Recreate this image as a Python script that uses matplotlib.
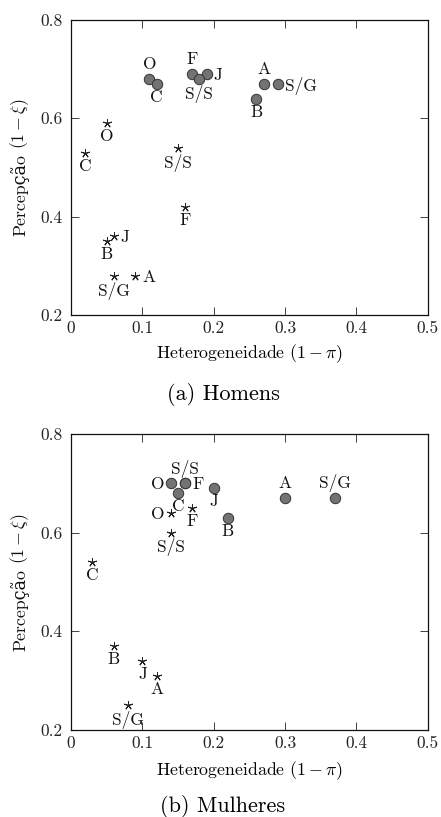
import matplotlib
matplotlib.use("Agg")
import matplotlib.pyplot as plt

plt.rcParams['font.family'] = ['cmr10', 'DejaVu Serif']
plt.rcParams['mathtext.fontset'] = 'cm'
plt.rcParams['axes.formatter.use_mathtext'] = True

# ---------------- data ----------------
x_ticks = [0, 0.1, 0.2, 0.3, 0.4, 0.5]
x_tick_labels = ['0', '0.1', '0.2', '0.3', '0.4', '0.5']
y_ticks = [0.2, 0.4, 0.6, 0.8]
y_tick_labels = ['0.2', '0.4', '0.6', '0.8']

# (a) Homens
men_circle_labels = ['O', 'C', 'F', 'J', 'S/S', 'A', 'S/G', 'B']
men_circle_x = [0.11, 0.12, 0.17, 0.19, 0.18, 0.27, 0.29, 0.26]
men_circle_y = [0.68, 0.67, 0.69, 0.69, 0.68, 0.67, 0.67, 0.64]
men_circle_pos = ['above', 'below', 'above', 'right', 'below', 'above', 'right', 'below']

men_star_labels = ['O', 'C', 'S/S', 'F', 'J', 'B', 'S/G', 'A']
men_star_x = [0.05, 0.02, 0.15, 0.16, 0.06, 0.05, 0.06, 0.09]
men_star_y = [0.59, 0.53, 0.54, 0.42, 0.36, 0.35, 0.28, 0.28]
men_star_pos = ['below', 'below', 'below', 'below', 'right', 'below', 'below', 'right']

# (b) Mulheres
women_circle_labels = ['O', 'S/S', 'F', 'C', 'J', 'A', 'S/G', 'B']
women_circle_x = [0.14, 0.16, 0.16, 0.15, 0.20, 0.30, 0.37, 0.22]
women_circle_y = [0.70, 0.70, 0.70, 0.68, 0.69, 0.67, 0.67, 0.63]
women_circle_pos = ['left', 'above', 'right', 'below', 'below', 'above', 'above', 'below']

women_star_labels = ['O', 'F', 'S/S', 'C', 'B', 'J', 'A', 'S/G']
women_star_x = [0.14, 0.17, 0.14, 0.03, 0.06, 0.10, 0.12, 0.08]
women_star_y = [0.64, 0.65, 0.60, 0.54, 0.37, 0.34, 0.31, 0.25]
women_star_pos = ['left', 'below', 'below', 'below', 'below', 'below', 'below', 'below']

x_title = r'Heterogeneidade $(1-\pi)$'
y_title_text = 'Percepção'
y_title_math = r'$(1-\xi)$'
captions = ['(a) Homens', '(b) Mulheres']

# ---------------- drawing ----------------
W, H = 441, 817
fig = plt.figure(figsize=(W / 100, H / 100), dpi=100)

LABEL_SIZE = 12.8
TICK_SIZE = 12.5
PT_SIZE = 12.5
CAP_SIZE = 16

offsets = {
    'above': dict(xytext=(0, 7.0), ha='center', va='baseline'),
    'below': dict(xytext=(0, -4.2), ha='center', va='top'),
    'right': dict(xytext=(5.0, 0), ha='left', va='center_baseline'),
    'left': dict(xytext=(-4.5, 0), ha='right', va='center_baseline'),
}


def draw_panel(ax, cx, cy, clab, cpos, sx, sy, slab, spos):
    ax.plot(sx, sy, linestyle='none', marker=(5, 2, 0), markersize=6.5,
            markeredgewidth=0.7, color='#222222', zorder=3)
    ax.plot(cx, cy, linestyle='none', marker='o', markersize=7.5,
            markerfacecolor='#737373', markeredgecolor='#333333',
            markeredgewidth=0.7, zorder=4)
    for x, y, t, p in list(zip(cx, cy, clab, cpos)) + list(zip(sx, sy, slab, spos)):
        o = offsets[p]
        ax.annotate(t, (x, y), xytext=o['xytext'], textcoords='offset points',
                    ha=o['ha'], va=o['va'], fontsize=PT_SIZE, color='#111111',
                    zorder=5)
    ax.set_xlim(0, 0.5)
    ax.set_ylim(0.2, 0.8)
    ax.set_xticks(x_ticks)
    ax.set_xticklabels(x_tick_labels)
    ax.set_yticks(y_ticks)
    ax.set_yticklabels(y_tick_labels)
    ax.tick_params(direction='in', length=5.5, width=0.6, top=True, right=True,
                   labelsize=TICK_SIZE, colors='#222222', pad=4)
    ax.tick_params(axis='y', pad=6)
    for s in ax.spines.values():
        s.set_linewidth(0.9)
        s.set_color('#111111')
    ax.set_xlabel(x_title, fontsize=LABEL_SIZE)
    ax.xaxis.label.set_va('center')


ax_left = 71 / W
ax_w = (427.7 - 71) / W
ax1 = fig.add_axes([ax_left, 1 - 315 / H, ax_w, (315 - 20) / H])
ax2 = fig.add_axes([ax_left, 1 - 730 / H, ax_w, (730 - 434) / H])

draw_panel(ax1, men_circle_x, men_circle_y, men_circle_labels, men_circle_pos,
           men_star_x, men_star_y, men_star_labels, men_star_pos)
draw_panel(ax2, women_circle_x, women_circle_y, women_circle_labels, women_circle_pos,
           women_star_x, women_star_y, women_star_labels, women_star_pos)

ax1.xaxis.set_label_coords(0.5, (315 - 354) / 295)
ax2.xaxis.set_label_coords(0.5, (730 - 771) / 296)

fig.text(223 / W, 1 - 394 / H, captions[0], ha='center', va='center', fontsize=CAP_SIZE)
fig.text(223 / W, 1 - 807 / H, captions[1], ha='center', va='center', fontsize=CAP_SIZE)

# rotated y label made of a plain-text part and a math part
fig.canvas.draw()
renderer = fig.canvas.get_renderer()
for top_px, bot_px in [(20, 315), (434, 730)]:
    cx = 20 / W
    t1 = fig.text(cx, 0, y_title_text, rotation=90, ha='center', va='bottom',
                  fontsize=LABEL_SIZE, color='#111111')
    t2 = fig.text(cx, 0, y_title_math, rotation=90, ha='center', va='bottom',
                  fontsize=LABEL_SIZE, color='#111111')
    h1 = t1.get_window_extent(renderer).height
    h2 = t2.get_window_extent(renderer).height
    gap = 5.0
    total = h1 + gap + h2
    center = H - (top_px + bot_px) / 2
    y0 = center - total / 2
    t1.set_position((cx, y0 / H))
    t2.set_position((cx, (y0 + h1 + gap) / H))

fig.savefig('out.png', dpi=100)
